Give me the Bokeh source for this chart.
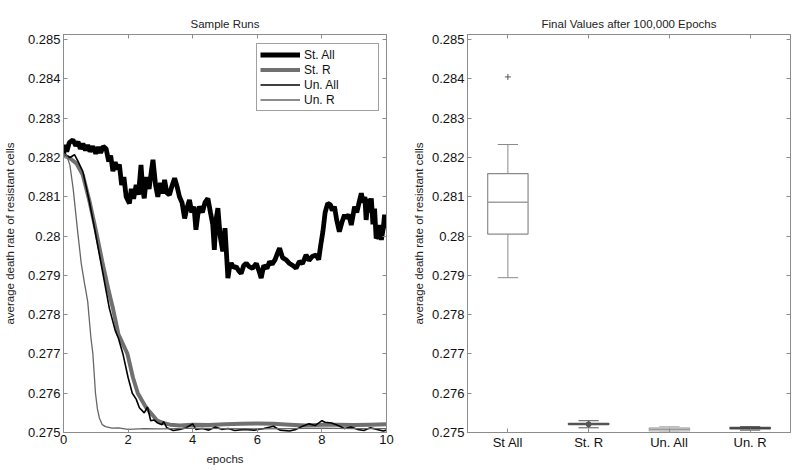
from bokeh.plotting import figure
from bokeh.layouts import row
from bokeh.models import (LinearAxis, FixedTicker, CustomJSTickFormatter, Range1d,
                          Legend, LegendItem)
from bokeh.embed import file_html
from bokeh.resources import INLINE

# ---------------- data ----------------
y_ticks = [0.275, 0.276, 0.277, 0.278, 0.279, 0.28, 0.281, 0.282, 0.283, 0.284, 0.285]
x_ticks = [0, 2, 4, 6, 8, 10]

st_all_x = [0, 0.03, 0.1, 0.18, 0.29, 0.38, 0.45, 0.52, 0.6, 0.68,
            0.75, 0.82, 0.91, 1.0, 1.08, 1.15, 1.23, 1.32, 1.4, 1.46,
            1.53, 1.6, 1.66, 1.73, 1.8, 1.87, 1.94, 2.04, 2.1, 2.17,
            2.25, 2.32, 2.4, 2.45, 2.5, 2.57, 2.65, 2.72, 2.77, 2.85,
            2.92, 3.0, 3.07, 3.13, 3.2, 3.28, 3.36, 3.44, 3.52, 3.59,
            3.67, 3.75, 3.82, 3.9, 3.97, 4.04, 4.1, 4.16, 4.21, 4.3,
            4.38, 4.47, 4.55, 4.62, 4.67, 4.72, 4.78, 4.85, 4.93, 5.0,
            5.09, 5.14, 5.19, 5.27, 5.35, 5.42, 5.5, 5.58, 5.66, 5.75,
            5.85, 5.97, 6.05, 6.12, 6.2, 6.3, 6.38, 6.46, 6.55, 6.62,
            6.69, 6.78, 6.9, 7.0, 7.1, 7.2, 7.3, 7.4, 7.51, 7.6,
            7.7, 7.82, 7.9, 7.96, 8.03, 8.1, 8.18, 8.26, 8.32, 8.39,
            8.46, 8.54, 8.62, 8.7, 8.75, 8.83, 8.91, 8.96, 9.01, 9.08,
            9.15, 9.22, 9.28, 9.33, 9.37, 9.43, 9.48, 9.53, 9.58, 9.63,
            9.68, 9.73, 9.78, 9.84, 9.9, 9.94, 10.0]
st_all_y = [0.2820, 0.28232, 0.28215, 0.28238, 0.28245, 0.2823, 0.2824, 0.28222, 0.28235, 0.28218,
            0.28232, 0.28215, 0.28228, 0.2821, 0.28226, 0.28212, 0.28228, 0.28222, 0.2819, 0.28205,
            0.28165, 0.28188, 0.2817, 0.28182, 0.2813, 0.2815, 0.281, 0.28083, 0.2812, 0.28095,
            0.2813, 0.28105, 0.28181, 0.2812, 0.28096, 0.2815, 0.2812, 0.28165, 0.28194, 0.2813,
            0.281, 0.28135, 0.28108, 0.28143, 0.2811, 0.28105, 0.28128, 0.28147, 0.28125, 0.281,
            0.28085, 0.28045, 0.2807, 0.28092, 0.2806, 0.28075, 0.28016, 0.28055, 0.28075, 0.2806,
            0.28085, 0.28096, 0.2806, 0.2803, 0.27965, 0.2804, 0.28071, 0.2800, 0.27961, 0.2802,
            0.27893, 0.2792, 0.27931, 0.2792, 0.27922, 0.27912, 0.27905, 0.27925, 0.27931, 0.27922,
            0.27918, 0.2793, 0.27912, 0.27893, 0.27925, 0.27918, 0.27935, 0.27928, 0.2794, 0.27955,
            0.27969, 0.27945, 0.27939, 0.2793, 0.27925, 0.27918, 0.27935, 0.2793, 0.27952, 0.27938,
            0.27948, 0.27952, 0.2794, 0.27975, 0.28011, 0.2806, 0.28083, 0.2808, 0.28065, 0.28075,
            0.2804, 0.28011, 0.28035, 0.28054, 0.28045, 0.28055, 0.28028, 0.2805, 0.28075, 0.2806,
            0.28085, 0.28109, 0.28085, 0.281, 0.28041, 0.28095, 0.2806, 0.28096, 0.2803, 0.2807,
            0.27994, 0.28, 0.28028, 0.2799, 0.2802, 0.28054, 0.2802]

st_r_x = [0, 0.2, 0.4, 0.6, 0.8, 1.0, 1.2, 1.4, 1.53, 1.7,
          1.98, 2.15, 2.3, 2.56, 2.75, 2.9, 3.1, 3.3, 3.6, 4.0,
          4.5, 5.0, 5.5, 6.0, 6.5, 7.0, 7.5, 8.0, 8.5, 9.0,
          9.5, 10]
st_r_y = [0.28205, 0.28198, 0.28185, 0.28155, 0.2809, 0.28015, 0.27935, 0.2786, 0.27816, 0.2775,
          0.277, 0.2764, 0.276, 0.27563, 0.27545, 0.2753, 0.27524, 0.2752, 0.27518, 0.2752,
          0.27519, 0.27521, 0.27522, 0.27523, 0.27522, 0.2752, 0.27518, 0.2752, 0.2752, 0.27519,
          0.2752, 0.27521]

un_all_x = [0, 0.1, 0.2, 0.34, 0.45, 0.6, 0.8, 0.96, 1.17, 1.42,
            1.6, 1.7, 1.84, 2.0, 2.13, 2.25, 2.35, 2.5, 2.6, 2.7,
            2.8, 2.9, 3.05, 3.1, 3.2, 3.4, 3.6, 3.8, 4.0, 4.1,
            4.3, 4.5, 4.7, 4.9, 5.1, 5.3, 5.6, 5.9, 6.2, 6.5,
            6.7, 7.0, 7.2, 7.4, 7.6, 7.8, 8.0, 8.1, 8.3, 8.5,
            8.7, 8.9, 9.1, 9.3, 9.5, 9.7, 9.9, 10]
un_all_y = [0.2821, 0.28205, 0.282, 0.28207, 0.2819, 0.28164, 0.28088, 0.2802, 0.27927, 0.27816,
            0.2776, 0.2774, 0.277, 0.2764, 0.276, 0.27585, 0.27563, 0.2755, 0.27565, 0.2753,
            0.27532, 0.27525, 0.2752, 0.27528, 0.27512, 0.27505, 0.27508, 0.27512, 0.27522, 0.27508,
            0.2751, 0.27506, 0.27514, 0.27508, 0.2751, 0.27505, 0.27508, 0.27506, 0.2751, 0.27516,
            0.27506, 0.27504, 0.27508, 0.27516, 0.27522, 0.27518, 0.2753, 0.27526, 0.27524, 0.27518,
            0.2751, 0.27514, 0.27508, 0.27505, 0.27512, 0.27508, 0.27504, 0.27506]

un_r_x = [0, 0.1, 0.2, 0.3, 0.44, 0.55, 0.65, 0.75, 0.85, 0.91,
          0.99, 1.05, 1.11, 1.2, 1.3, 1.5, 1.7, 2.0, 2.5, 3.0,
          3.5, 4.0, 5.0, 6.0, 7.0, 8.0, 9.0, 10]
un_r_y = [0.2821, 0.28205, 0.2818, 0.2812, 0.2801, 0.2793, 0.2788, 0.27833, 0.2774, 0.277,
          0.276, 0.2756, 0.27537, 0.2752, 0.27515, 0.27511, 0.27512, 0.27508, 0.2751, 0.27509,
          0.2751, 0.27511, 0.2751, 0.27509, 0.2751, 0.27511, 0.2751, 0.2751]

box_cats = ["St All", "St. R", "Un. All", "Un. R"]
box_pos = [1, 2, 3, 4]
box_q1 = [0.28005, 0.27520, 0.27504, 0.27509]
box_med = [0.28086, 0.27521, 0.27508, 0.27511]
box_q3 = [0.28159, 0.27523, 0.27512, 0.27513]
box_lo = [0.27894, 0.27512, 0.27501, 0.27506]
box_hi = [0.28233, 0.27530, 0.27515, 0.27515]
box_colors = ["#8a8a8a", "#555555", "#b4b4b4", "#555555"]
med_colors = ["#a0a0a0", "#555555", "#999999", "#444444"]
out_pos = [1, 2]
out_val = [0.28405, 0.27521]

# ---------------- style ----------------
FONT = "Liberation Sans"
AXC = "#8c8c8c"
Y0, Y1 = 0.275, 0.28513
yfmt = CustomJSTickFormatter(code="return parseFloat(tick.toFixed(3)).toString();")


def make_fig(xr, border_left, border_right, title):
    p = figure(frame_width=323, frame_height=398, x_range=xr, y_range=Range1d(Y0, Y1),
               output_backend="svg", toolbar_location=None,
               min_border_left=border_left, min_border_right=border_right,
               min_border_top=34, min_border_bottom=35)
    p.grid.visible = False
    p.outline_line_color = AXC
    p.background_fill_color = "white"
    p.border_fill_color = "white"
    p.title.text = title
    p.title.align = "center"
    p.title.text_font = FONT
    p.title.text_font_size = "11.5px"
    p.title.text_font_style = "normal"
    p.title.text_color = "#222222"
    return p


def style_axis(ax, ticker, fmt=None, labels=True, pad=0):
    ax.ticker = ticker
    if fmt is not None:
        ax.formatter = fmt
    ax.axis_line_color = AXC
    ax.major_tick_line_color = AXC
    ax.major_tick_in = 4
    ax.major_tick_out = 0
    ax.minor_tick_line_color = None
    ax.major_label_text_font = FONT
    ax.major_label_text_color = "#111111"
    ax.axis_label_text_font = FONT
    ax.axis_label_text_font_size = "11.5px"
    ax.axis_label_text_font_style = "normal"
    ax.axis_label_text_color = "#222222"
    if labels:
        ax.major_label_text_font_size = "13px"
    else:
        ax.major_label_text_font_size = "0px"
        ax.major_label_text_color = None
        ax.major_label_standoff = pad


def decorate(p, xticker, xfmt, ylabel_standoff):
    xb = p.xaxis[0]
    yl = p.yaxis[0]
    style_axis(xb, xticker, xfmt)
    xb.major_label_standoff = 2
    style_axis(yl, FixedTicker(ticks=y_ticks), yfmt)
    yl.major_label_standoff = 3
    yl.axis_label = "average death rate of resistant cells"
    yl.axis_label_standoff = ylabel_standoff
    top = LinearAxis()
    style_axis(top, xticker, labels=False, pad=7)
    p.add_layout(top, "above")
    right = LinearAxis()
    style_axis(right, FixedTicker(ticks=y_ticks), labels=False)
    p.add_layout(right, "right")
    return xb, yl


# ---------------- left: sample runs ----------------
p1 = make_fig(Range1d(0, 10), 60, 10, "Sample Runs")
xb1, yl1 = decorate(p1, FixedTicker(ticks=x_ticks), None, 9)
xb1.axis_label = "epochs"
xb1.axis_label_standoff = 6

r_stall = p1.line(st_all_x, st_all_y, line_color="#000000", line_width=4.8)
r_str = p1.line(st_r_x, st_r_y, line_color="#707070", line_width=4)
r_unall = p1.line(un_all_x, un_all_y, line_color="#000000", line_width=1.6)
r_unr = p1.line(un_r_x, un_r_y, line_color="#666666", line_width=1.3)

legend = Legend(items=[LegendItem(label="St. All", renderers=[r_stall]),
                       LegendItem(label="St. R", renderers=[r_str]),
                       LegendItem(label="Un. All", renderers=[r_unall]),
                       LegendItem(label="Un. R", renderers=[r_unr])],
                location=(193, 321))
legend.margin = 0
legend.padding = 3
legend.spacing = 0
legend.glyph_width = 40
legend.glyph_height = 15
legend.label_height = 15
legend.label_width = 71
legend.label_standoff = 4
legend.label_text_font = FONT
legend.label_text_font_size = "12px"
legend.label_text_color = "#111111"
legend.border_line_color = "#444444"
legend.border_line_width = 1
legend.background_fill_color = "white"
legend.background_fill_alpha = 1
p1.add_layout(legend)

# ---------------- right: box plot ----------------
p2 = make_fig(Range1d(0.5, 4.5), 71, 2, "Final Values after 100,000 Epochs")
cat_fmt = CustomJSTickFormatter(args=dict(labels=box_cats),
                                code="return labels[Math.round(tick) - 1];")
decorate(p2, FixedTicker(ticks=box_pos), cat_fmt, 4)

box_l = [x - 0.25 for x in box_pos]
box_r = [x + 0.25 for x in box_pos]
cap_l = [x - 0.125 for x in box_pos]
cap_r = [x + 0.125 for x in box_pos]

p2.segment(box_pos, box_q3, box_pos, box_hi, line_color=box_colors, line_width=1)
p2.segment(box_pos, box_lo, box_pos, box_q1, line_color=box_colors, line_width=1)
p2.segment(cap_l, box_hi, cap_r, box_hi, line_color=box_colors, line_width=1)
p2.segment(cap_l, box_lo, cap_r, box_lo, line_color=box_colors, line_width=1)
p2.quad(left=box_l, right=box_r, bottom=box_q1, top=box_q3,
        fill_color=None, line_color=box_colors, line_width=1.2)
p2.segment(box_l, box_med, box_r, box_med, line_color=med_colors, line_width=1.5)
p2.scatter(out_pos[:1], out_val[:1], marker="cross", size=6, line_color="#555555", line_width=1)
p2.scatter(out_pos[1:], out_val[1:], marker="circle", size=5, fill_color="#555555",
           line_color="#555555")

layout = row(p1, p2, spacing=0)
open("out.html", "w").write(file_html(layout, INLINE))
